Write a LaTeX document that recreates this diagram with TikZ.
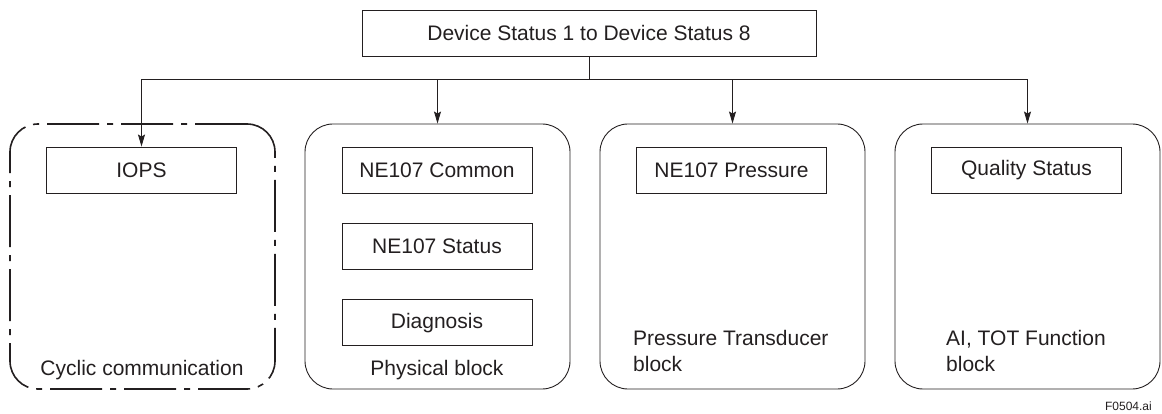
\documentclass[tikz,border=0pt]{standalone}
\usepackage{fontspec}
\setmainfont{Liberation Sans}
\usetikzlibrary{arrows.meta,positioning}
\definecolor{ink}{RGB}{35,31,32}
\tikzset{
  grp/.style={draw=ink, rounded corners=28pt, minimum width=265pt, minimum height=265pt, line width=0.9pt, inner sep=0pt},
  field/.style={draw=ink, text=ink, minimum width=190pt, minimum height=46pt, line width=0.9pt, inner sep=0pt, font=\fontsize{21}{25}\selectfont},
  lbl/.style={text=ink, align=left, inner sep=0pt, font=\fontsize{21}{26}\selectfont},
  arr/.style={draw=ink, -{Stealth[length=12pt,width=7pt,inset=2pt]}, line width=0.9pt}
}
\begin{document}
\begin{tikzpicture}[x=1pt, y=-1pt]
\useasboundingbox (0,0) rectangle (1162,414);
\node[field, minimum width=454pt] (top) at (589,33){Device Status 1 to Device Status 8};
\node[grp, line width=1.6pt, dash pattern=on 52pt off 8pt on 6pt off 8pt] (cyc) at (142.5,256.5){};
\node[grp] (phys) at (437.5,256.5){};
\node[grp] (ptb) at (732.5,256.5){};
\node[grp] (fb) at (1027.5,256.5){};
\node[field] (iops) at (141.5,170){IOPS};
\node[field] (ncom) at (437,170){NE107 Common};
\node[field, below=29.5pt of ncom] (nsta){NE107 Status};
\node[field, below=29.5pt of nsta] (diag){Diagnosis};
\node[field] (npre) at (731.5,170){NE107 Pressure};
\node[field] (qual) at (1026.5,170){Quality Status};
\node[lbl] (cyclbl) at (142,370){Cyclic communication};
\node[lbl] (physlbl) at (437,370){Physical block};
\node[lbl, anchor=north west] (ptblbl) at (633,330){Pressure Transducer\\block};
\node[lbl, anchor=north west] (fblbl) at (946,330){AI, TOT Function\\block};
\node[anchor=east, text=ink, inner sep=0pt, font=\fontsize{12}{14}\selectfont] (fig) at (1152,406){F0504.ai};
\coordinate (split) at (589,79);
\draw[draw=ink, line width=0.9pt] (top.south) -- (split);
\draw[arr] (split) -| (iops.north);
\draw[arr] (split) -| (phys.north);
\draw[arr] (split) -| (ptb.north);
\draw[arr] (split) -| (fb.north);
\end{tikzpicture}
\end{document}
